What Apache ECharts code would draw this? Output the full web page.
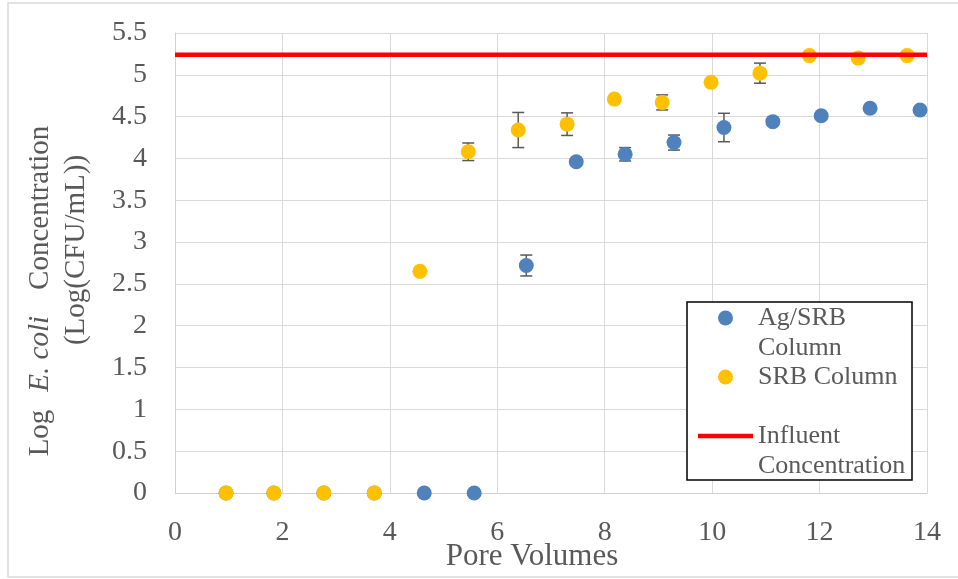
<!DOCTYPE html>
<html>
<head>
<meta charset="utf-8">
<script src="https://cdn.jsdelivr.net/npm/echarts@6/dist/echarts.min.js"></script>
<style>html,body{margin:0;padding:0;background:#fff;}#c{width:958px;height:579px;}</style>
</head>
<body>
<div id="c"></div>
<script>
// Data
const agX   = [0.95, 1.84, 2.77, 3.71, 4.64, 5.57, 6.54, 7.47, 8.38, 9.29, 10.22, 11.13, 12.03, 12.94, 13.87];
const agY   = [0, 0, 0, 0, 0, 0, 2.72, 3.96, 4.05, 4.19, 4.37, 4.44, 4.51, 4.60, 4.58];
const agErr = [0, 0, 0, 0, 0, 0, 0.125, 0, 0.08, 0.09, 0.17, 0, 0, 0, 0];

const srbX   = [0.95, 1.84, 2.77, 3.71, 4.56, 5.46, 6.39, 7.30, 8.18, 9.07, 9.98, 10.89, 11.81, 12.72, 13.63];
const srbY   = [0, 0, 0, 0, 2.65, 4.08, 4.34, 4.41, 4.71, 4.67, 4.91, 5.02, 5.23, 5.20, 5.23];
const srbErr = [0, 0, 0, 0, 0, 0.105, 0.21, 0.135, 0, 0.09, 0, 0.12, 0, 0, 0];

const influentX = [0, 14];
const influentLevel = 5.24;

const seriesNames = ['Ag/SRB\nColumn', 'SRB Column\n ', 'Influent\nConcentration'];

const FONT = "'Liberation Serif', 'Times New Roman', serif";
const TXT = '#595959';

const agPts = agX.map((x, i) => [x, agY[i]]);
const srbPts = srbX.map((x, i) => [x, srbY[i]]);
const errPts = agX.map((x, i) => [x, agY[i], agErr[i]])
  .concat(srbX.map((x, i) => [x, srbY[i], srbErr[i]]));
const influentPts = influentX.map(x => [x, influentLevel]);

function renderErr(params, api) {
  const x = api.value(0), y = api.value(1), e = api.value(2);
  if (!e) return null;
  const t = api.coord([x, y + e]);
  const b = api.coord([x, y - e]);
  const hw = 6;
  const st = { stroke: '#595959', lineWidth: 1.5 };
  return {
    type: 'group',
    children: [
      { type: 'line', shape: { x1: t[0], y1: t[1], x2: b[0], y2: b[1] }, style: st },
      { type: 'line', shape: { x1: t[0] - hw, y1: t[1], x2: t[0] + hw, y2: t[1] }, style: st },
      { type: 'line', shape: { x1: b[0] - hw, y1: b[1], x2: b[0] + hw, y2: b[1] }, style: st }
    ]
  };
}

const chart = echarts.init(document.getElementById('c'), null, { renderer: 'canvas' });
chart.setOption({
  animation: false,
  backgroundColor: '#fff',
  grid: { left: 175, right: 31, top: 33, bottom: 86, containLabel: false },
  graphic: [
    { type: 'rect', shape: { x: 8, y: 3, width: 980, height: 574 },
      style: { fill: 'none', stroke: '#d9d9d9', lineWidth: 1.5 }, z: -10, silent: true },
    { type: 'rect', shape: { x: 687, y: 302, width: 225, height: 178 },
      style: { fill: '#fff', stroke: '#000', lineWidth: 1.5 }, z: 10, silent: true }
  ],
  legend: {
    data: [seriesNames[0], seriesNames[1],
      { name: seriesNames[2], icon: 'path://M0,0L55,0L55,4.5L0,4.5Z' }],
    formatter: function (name) { return '\n' + name; },
    orient: 'vertical',
    left: 698,
    top: 273,
    padding: 0,
    itemGap: -31,
    itemWidth: 55,
    itemHeight: 15,
    symbolKeepAspect: true,
    selectedMode: false,
    z: 20,
    textStyle: { fontFamily: FONT, fontSize: 26, lineHeight: 30, color: TXT }
  },
  xAxis: {
    type: 'value',
    min: 0, max: 14, interval: 2,
    name: 'Pore Volumes',
    nameLocation: 'middle',
    nameGap: 48,
    nameMoveOverlap: false,
    nameTextStyle: { fontFamily: FONT, fontSize: 31, color: TXT, padding: [0, 38, 0, 0] },
    axisLine: { show: true, lineStyle: { color: '#d0d0d0', width: 1 } },
    axisTick: { show: false },
    axisLabel: { fontFamily: FONT, fontSize: 28, color: TXT, margin: 26 },
    splitLine: { show: true, lineStyle: { color: '#d9d9d9', width: 1 } }
  },
  yAxis: {
    type: 'value',
    min: 0, max: 5.5, interval: 0.5,
    name: '{a|Log}{g| }{b|E. coli}{h| }{a|Concentration}{t| }\n{a|(Log(CFU/mL))}',
    nameLocation: 'middle',
    nameGap: 81,
    nameMoveOverlap: false,
    nameTextStyle: {
      fontFamily: FONT, fontSize: 29, color: TXT, padding: [0, 0, 0, 26],
      rich: {
        a: { fontFamily: FONT, fontSize: 29, color: TXT, lineHeight: 36 },
        b: { fontFamily: FONT, fontSize: 29, color: TXT, lineHeight: 36, fontStyle: 'italic' },
        g: { fontFamily: FONT, fontSize: 29, color: TXT, lineHeight: 36, width: 18 },
        h: { fontFamily: FONT, fontSize: 29, color: TXT, lineHeight: 36, width: 26 },
        t: { fontFamily: FONT, fontSize: 29, color: TXT, lineHeight: 36, width: 82 }
      }
    },
    axisLine: { show: true, lineStyle: { color: '#d0d0d0', width: 1 } },
    axisTick: { show: false },
    axisLabel: { fontFamily: FONT, fontSize: 28, color: TXT, margin: 28 },
    splitLine: { show: true, lineStyle: { color: '#d9d9d9', width: 1 } }
  },
  series: [
    {
      name: seriesNames[2], type: 'line', data: influentPts,
      symbol: 'none', color: '#ff0000',
      itemStyle: { color: '#ff0000' },
      lineStyle: { color: '#ff0000', width: 4.5 },
      emphasis: { disabled: true }, silent: true
    },
    {
      name: 'errors', type: 'custom', renderItem: renderErr, data: errPts,
      encode: { x: 0, y: 1 }, silent: true
    },
    {
      name: seriesNames[0], type: 'scatter', data: agPts, symbol: 'circle', symbolSize: 15,
      itemStyle: { color: '#4f81bd', opacity: 1 }, emphasis: { disabled: true }
    },
    {
      name: seriesNames[1], type: 'scatter', data: srbPts, symbol: 'circle', symbolSize: 15,
      itemStyle: { color: '#ffc000', opacity: 1 }, emphasis: { disabled: true }
    }
  ]
});
</script>
</body>
</html>
